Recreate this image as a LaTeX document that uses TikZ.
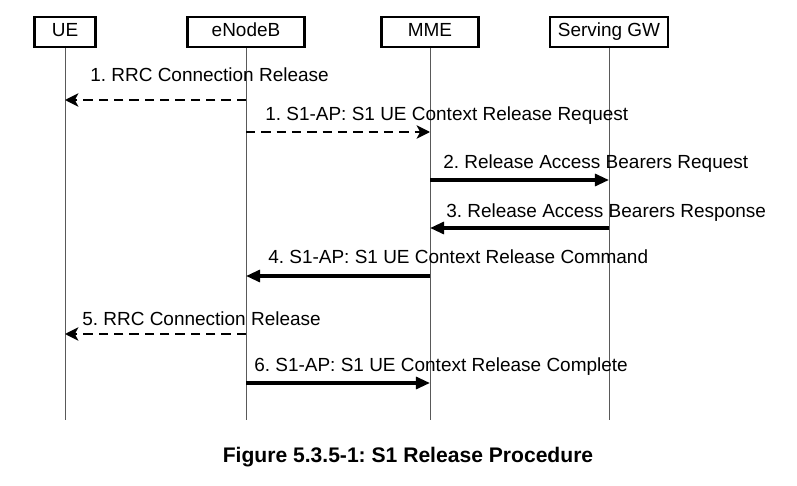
\documentclass[tikz,border=0pt]{standalone}
\usepackage{fontspec}
\setmainfont{Liberation Sans}
\usetikzlibrary{arrows.meta}
\frenchspacing
\begin{document}
\begin{tikzpicture}[x=0.025cm,y=-0.025cm,font=\fontsize{13.5}{16}\selectfont,
    actor/.style={draw,line width=1.6pt,minimum height=0.75cm,inner sep=0pt,text height=9.7pt,text depth=2.6pt},
    life/.style={gray!70!black,line width=0.7pt},
    sig/.style={line width=2.3pt,-{Triangle[length=10pt,width=8.5pt]}},
    ack/.style={line width=1.4pt,dash pattern=on 6.6pt off 4.3pt,-{Stealth[length=9.5pt,width=9.5pt,inset=2.5pt]}},
    txt/.style={anchor=base west,inner sep=0pt}]
    \useasboundingbox (0,0) rectangle (797,486);
    \foreach \id/\x/\w/\name in {ue/65/1.525/UE,enb/246/2.925/eNodeB,mme/430/2.425/MME,sgw/609/2.95/Serving GW}{
      \node[actor,minimum width=\w cm] (\id) at (\x,32) {\name};
      \coordinate (\id-end) at (\x,420);
      \draw[life] (\id) -- (\id-end);
      \foreach \r/\y in {1/100,2/132,3/180,4/228,5/276,6/334,7/383}{\coordinate (\id-\r) at (\x,\y);}
    }
    \draw[ack] (enb-1) -- (ue-1);
    \draw[ack] (enb-2) -- (mme-2);
    \draw[sig] (mme-3) -- (sgw-3);
    \draw[sig] (sgw-4) -- (mme-4);
    \draw[sig] (mme-5) -- (enb-5);
    \draw[ack] (enb-6) -- (ue-6);
    \draw[sig] (enb-7) -- (mme-7);
    \node[txt] (m1) at (90,82) {1. RRC Connection Release};
    \node[txt] (m2) at (265,120) {1. S1-AP: S1 UE Context Release Request};
    \node[txt] (m3) at (443,168) {2. Release Access Bearers Request};
    \node[txt] (m4) at (446,217) {3. Release Access Bearers Response};
    \node[txt] (m5) at (268,263) {4. S1-AP: S1 UE Context Release Command};
    \node[txt] (m6) at (82,325) {5. RRC Connection Release};
    \node[txt] (m7) at (254,371) {6. S1-AP: S1 UE Context Release Complete};
    \node[anchor=base,font=\fontsize{15}{18}\bfseries\selectfont] (cap) at (408,462) {Figure 5.3.5-1: S1 Release Procedure};
\end{tikzpicture}
\end{document}
